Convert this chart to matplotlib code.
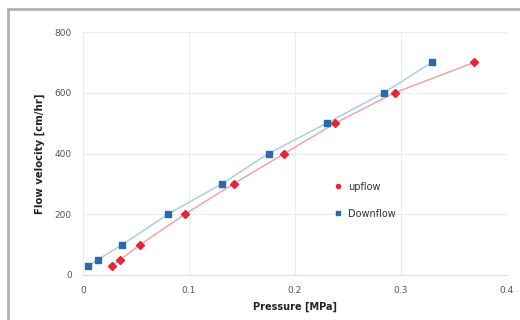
import matplotlib.pyplot as plt
from matplotlib.patches import Rectangle
from matplotlib.lines import Line2D

# pressure [MPa] vs flow velocity [cm/hr]
up_pressure = [0.027, 0.035, 0.054, 0.096, 0.142, 0.190, 0.238, 0.294, 0.369]
up_velocity = [30, 50, 100, 200, 300, 400, 500, 600, 700]
down_pressure = [0.005, 0.014, 0.037, 0.080, 0.131, 0.175, 0.230, 0.284, 0.329]
down_velocity = [30, 50, 100, 200, 300, 400, 500, 600, 700]

x_ticks = [0, 0.1, 0.2, 0.3, 0.4]
x_labels = ["0", "0.1", "0.2", "0.3", "0.4"]
y_ticks = [0, 200, 400, 600, 800]

red = "#e3263a"
blue = "#2b6aa8"

fig = plt.figure(figsize=(5.2, 3.2), dpi=100)
fig.patch.set_facecolor("white")

# outer chart border (only top and left are visible in the crop)
fig.add_artist(Rectangle((8 / 520, -0.1), 1.2, (320 - 9) / 320 + 0.1,
                         transform=fig.transFigure, fill=False,
                         edgecolor="#b0b0b0", linewidth=2))

ax = fig.add_axes([83 / 520, 45 / 320, 424 / 520, 243 / 320])
ax.plot(up_pressure, up_velocity, color="#f4a3a8", linewidth=1.1, zorder=2)
ax.plot(down_pressure, down_velocity, color="#a9cdea", linewidth=1.1, zorder=2)
ax.plot(up_pressure, up_velocity, linestyle="none", marker="D", markersize=4,
        color=red, zorder=3)
ax.plot(down_pressure, down_velocity, linestyle="none", marker="s", markersize=4.5,
        color=blue, zorder=3)

ax.set_xlim(0, 0.4)
ax.set_ylim(0, 800)
ax.set_xticks(x_ticks)
ax.set_xticklabels(x_labels)
ax.set_yticks(y_ticks)
ax.grid(True, color="#ececec", linewidth=0.8)
ax.set_axisbelow(True)
for side in ["top", "right", "left"]:
    ax.spines[side].set_visible(False)
ax.spines["bottom"].set_color("#dddddd")
ax.tick_params(length=0, labelsize=6.5, labelcolor="#555555", pad=8)

ax.set_xlabel("Pressure [MPa]", fontsize=7, fontweight="bold", color="#222222",
              labelpad=5)
ax.set_ylabel("Flow velocity [cm/hr]", fontsize=7.3, fontweight="bold",
              color="#222222", labelpad=7)

handles = [Line2D([], [], linestyle="none", marker="o", markersize=3, color=red),
           Line2D([], [], linestyle="none", marker="s", markersize=3, color=blue)]
ax.legend(handles, ["upflow", "Downflow"], loc="upper left",
          bbox_to_anchor=(0.57, 0.42), frameon=False, fontsize=7,
          labelspacing=1.75, handletextpad=0.5, handlelength=1.0,
          labelcolor="#333333")

fig.savefig("out.png", dpi=100)
